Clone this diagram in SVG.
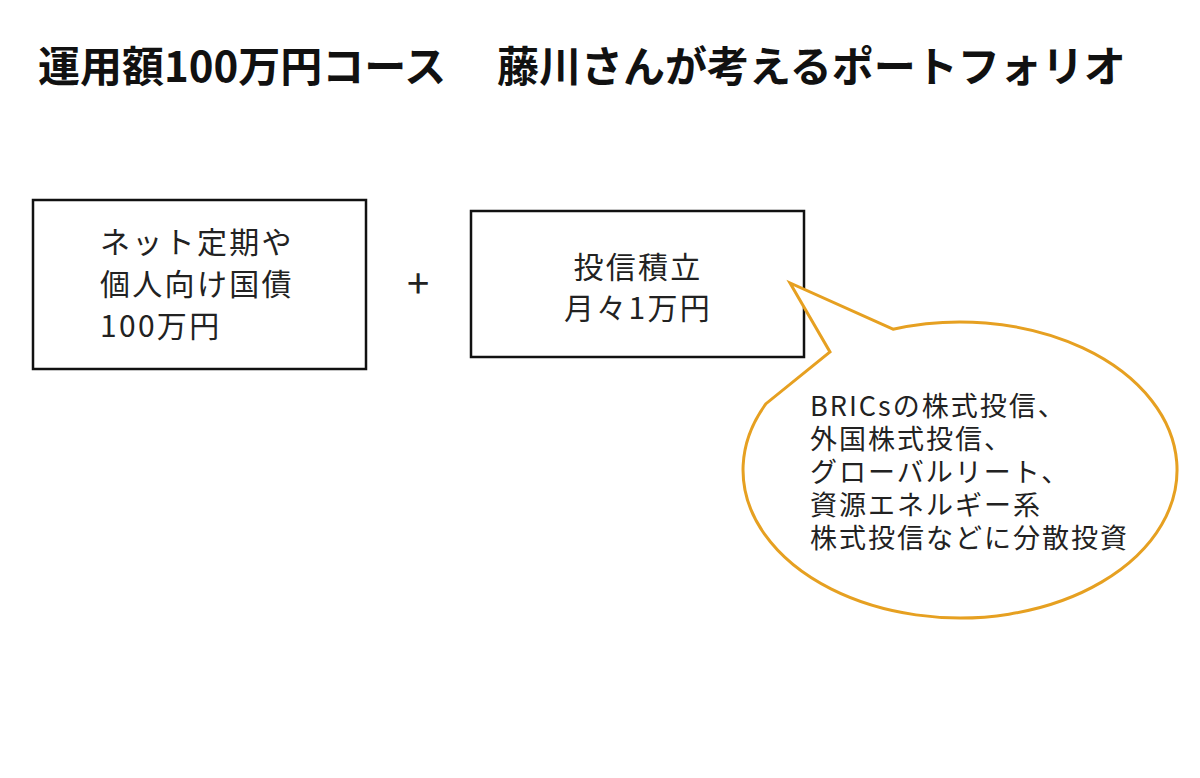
<svg xmlns="http://www.w3.org/2000/svg" width="1200" height="778" viewBox="0 0 1200 778">
<style>
.t{font-family:"Noto Sans CJK JP","Liberation Sans",sans-serif;fill:#222}
.title{font-size:42px;font-weight:bold;fill:#111}
.box{fill:#fff;stroke:#111;stroke-width:2.5}
.bt{font-size:30px;letter-spacing:2.3px}
.ct{font-size:27px;letter-spacing:2px}
.bubble{fill:#fff;stroke:#E6A021;stroke-width:3;stroke-linejoin:miter}
</style>
<rect width="1200" height="778" fill="#fff"/>
<g id="title">
<text class="t title" x="38" y="82">運用額100万円コース<tspan x="497">藤川さんが考えるポートフォリオ</tspan></text>
</g>
<g id="node-deposit">
<rect class="box" x="33" y="200" width="333" height="169"/>
<text class="t bt" x="100" y="253">ネット定期や<tspan x="100" dy="42">個人向け国債</tspan><tspan x="100" dy="42">100万円</tspan></text>
</g>
<g id="plus">
<text class="t" x="418" y="298" font-size="40" text-anchor="middle">+</text>
</g>
<g id="node-fund">
<rect class="box" x="471" y="211" width="333" height="146"/>
<text class="t bt" x="638" y="278" text-anchor="middle">投信積立<tspan x="638" dy="41">月々1万円</tspan></text>
</g>
<g id="connectors">
<path id="callout" class="bubble" d="M893 329.2 L790 283 L830 352 L766 403.7 A217 148 0 1 0 893 329.2 Z"/>
</g>
<g id="node-callout">
<text class="t ct" x="810" y="416">BRICsの株式投信、<tspan x="810" dy="33">外国株式投信、</tspan><tspan x="810" dy="33">グローバルリート、</tspan><tspan x="810" dy="33">資源エネルギー系</tspan><tspan x="810" dy="33">株式投信などに分散投資</tspan></text>
</g>
</svg>
